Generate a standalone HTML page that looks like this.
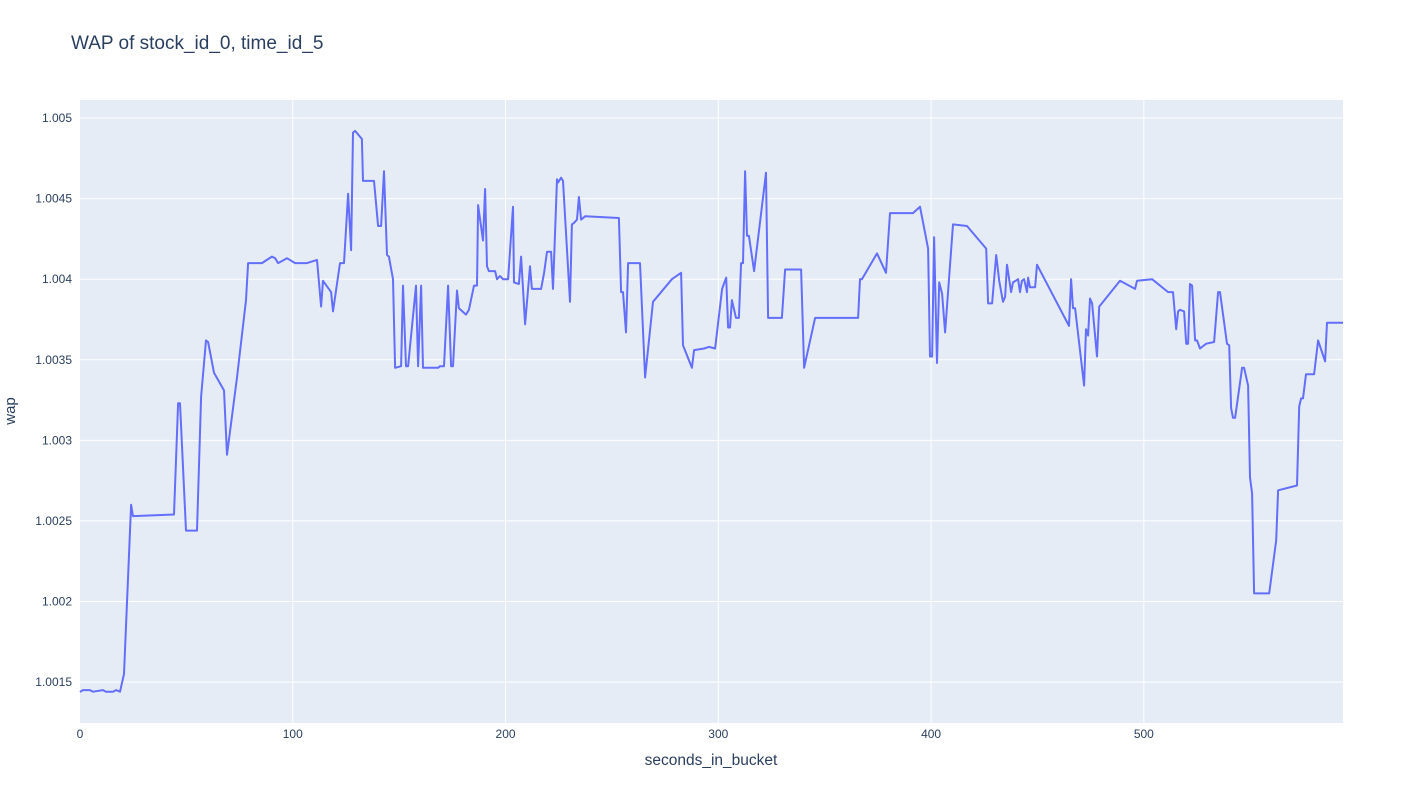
<!DOCTYPE html>
<html><head><meta charset="utf-8"><style>
body{margin:0;background:#fff;}
svg text{font-family:"Liberation Sans",sans-serif;fill:#2a3f5f;}
</style></head><body>
<svg id="chart" width="1424" height="804">
<text x="71" y="49" font-size="19">WAP of stock_id_0, time_id_5</text>
<rect x="80" y="100" width="1263" height="623" fill="#e5ecf6"/>
<g id="grid"></g>
<g id="ticks"></g>
<path id="line" fill="none" stroke="#636efa" stroke-width="2" stroke-linejoin="round"/>
<text x="711" y="765" font-size="15.5" text-anchor="middle">seconds_in_bucket</text>
<text x="15" y="411" font-size="15" text-anchor="middle" transform="rotate(-90 15 411)">wap</text>
</svg>
<script>
const xTicks=[0,100,200,300,400,500];
const yTicks=[1.0015,1.002,1.0025,1.003,1.0035,1.004,1.0045,1.005];
const yTickLabels=["1.0015","1.002","1.0025","1.003","1.0035","1.004","1.0045","1.005"];
const seconds=[0,1.3,4.7,6.1,10.8,12.2,15.5,16.9,18.8,20.7,24.0,24.9,44.2,46.1,47.0,49.8,55.0,56.9,59.2,60.2,63.0,67.7,69.1,73.8,78.0,79.0,85.5,90.2,91.7,93.1,97.3,101.1,106.7,111.4,113.3,114.2,118.0,118.9,122.2,124.1,126.0,127.4,128.3,129.3,132.5,133.0,138.2,140.1,141.5,142.9,144.3,145.2,147.1,148.1,150.9,151.8,153.2,154.2,157.9,158.9,160.3,161.2,168.3,169.2,171.1,173.0,174.4,175.3,177.2,178.1,181.4,182.8,185.2,186.6,187.1,189.4,190.4,191.3,192.2,195.1,196.0,197.4,198.8,201.2,203.5,204.0,206.3,207.3,209.2,211.5,212.4,216.7,218.1,219.5,221.4,222.3,224.2,224.7,226.1,227.0,230.3,231.2,232.2,233.6,234.5,235.5,237.4,253.3,254.3,255.2,256.6,257.6,263.2,265.6,269.3,278.2,282.5,283.4,287.6,288.6,293.3,295.6,298.5,301.8,303.7,304.6,305.5,306.4,308.3,309.7,310.7,311.6,312.6,313.5,314.4,316.8,322.4,323.4,329.9,331.4,338.9,340.3,345.5,349.2,365.7,366.6,367.5,374.6,378.8,380.7,391.5,394.8,398.6,399.5,400.5,401.4,402.8,403.8,405.2,406.6,410.3,416.9,425.9,426.8,428.7,430.6,432.0,433.8,434.8,435.7,437.6,438.5,440.9,441.8,442.7,443.7,445.1,445.6,446.5,448.9,449.8,464.8,465.8,466.7,467.7,471.9,472.8,473.8,474.7,475.7,478.0,479.0,488.8,495.9,496.8,503.9,511.4,513.7,515.2,516.1,517.0,518.9,519.9,520.8,521.7,522.7,524.1,525.0,526.4,529.3,533.0,534.9,535.8,539.1,540.1,541.0,541.9,542.9,546.2,547.1,549.0,549.9,550.9,551.8,558.9,562.2,563.1,572.0,573.0,573.9,574.8,576.2,580.0,581.9,585.2,586.1,593.6];
const wap=[1.001438,1.00145,1.00145,1.00144,1.00145,1.00144,1.00144,1.00145,1.00144,1.00155,1.00260,1.00253,1.00254,1.00323,1.00323,1.00244,1.00244,1.00327,1.00362,1.00361,1.00342,1.00331,1.00291,1.00339,1.00387,1.00410,1.00410,1.00414,1.00413,1.00410,1.00413,1.00410,1.00410,1.00412,1.00383,1.00399,1.00392,1.00380,1.00410,1.00410,1.00453,1.00418,1.00491,1.00492,1.00487,1.00461,1.00461,1.00433,1.00433,1.00467,1.00415,1.00414,1.00400,1.00345,1.00346,1.00396,1.00346,1.00346,1.00396,1.00346,1.00396,1.00345,1.00345,1.00346,1.00346,1.00396,1.00346,1.00346,1.00393,1.00382,1.00378,1.00381,1.00396,1.00396,1.00446,1.00424,1.00456,1.00408,1.00405,1.00405,1.00400,1.00402,1.00400,1.00400,1.00445,1.00398,1.00397,1.00414,1.00372,1.00408,1.00394,1.00394,1.00404,1.00417,1.00417,1.00394,1.00462,1.00460,1.00463,1.00461,1.00386,1.00434,1.00435,1.00437,1.00451,1.00437,1.00439,1.00438,1.00392,1.00392,1.00367,1.00410,1.00410,1.00339,1.00386,1.00400,1.00404,1.00359,1.00345,1.00356,1.00357,1.00358,1.00357,1.00394,1.00401,1.00370,1.00370,1.00387,1.00376,1.00376,1.00410,1.00410,1.00467,1.00427,1.00427,1.00405,1.00466,1.00376,1.00376,1.00406,1.00406,1.00345,1.00376,1.00376,1.00376,1.00400,1.00400,1.00416,1.00404,1.00441,1.00441,1.00445,1.00419,1.00352,1.00352,1.00426,1.00348,1.00398,1.00391,1.00367,1.00434,1.00433,1.00419,1.00385,1.00385,1.00415,1.00399,1.00386,1.00389,1.00409,1.00392,1.00398,1.00400,1.00392,1.00399,1.00400,1.00392,1.00401,1.00395,1.00395,1.00409,1.00371,1.00400,1.00382,1.00382,1.00334,1.00369,1.00365,1.00388,1.00385,1.00352,1.00383,1.00399,1.00394,1.00399,1.00400,1.00392,1.00392,1.00369,1.00380,1.00381,1.00380,1.00360,1.00360,1.00397,1.00396,1.00362,1.00362,1.00357,1.00360,1.00361,1.00392,1.00392,1.00360,1.00359,1.00320,1.00314,1.00314,1.00345,1.00345,1.00334,1.00277,1.00267,1.00205,1.00205,1.00238,1.00269,1.00272,1.00321,1.00326,1.00326,1.00341,1.00341,1.00362,1.00349,1.00373,1.00373];

const X0=80,X1=1343,Y0=100,Y1=723;
const xMin=0,xMax=593.6,yMin=1.001246,yMax=1.005112;
function sx(v){return X0+(v-xMin)/(xMax-xMin)*(X1-X0);}
function sy(v){return Y1-(v-yMin)/(yMax-yMin)*(Y1-Y0);}
const NS="http://www.w3.org/2000/svg";
const grid=document.getElementById('grid'),ticks=document.getElementById('ticks');
xTicks.forEach(t=>{
  const x=sx(t);
  if(t!==0){
    const l=document.createElementNS(NS,'line');
    l.setAttribute('x1',x);l.setAttribute('x2',x);l.setAttribute('y1',Y0);l.setAttribute('y2',Y1);
    l.setAttribute('stroke','#fff');l.setAttribute('stroke-width','1');
    
    
    grid.appendChild(l);
  }
  const tx=document.createElementNS(NS,'text');
  tx.setAttribute('x',x);tx.setAttribute('y',738);tx.setAttribute('font-size','12');tx.setAttribute('text-anchor','middle');
  tx.textContent=String(t);
  
  
  ticks.appendChild(tx);
});
yTicks.forEach((t,i)=>{
  const y=sy(t);
  const l=document.createElementNS(NS,'line');
  l.setAttribute('x1',X0);l.setAttribute('x2',X1);l.setAttribute('y1',y);l.setAttribute('y2',y);
  l.setAttribute('stroke','#fff');l.setAttribute('stroke-width','1');
  
  
  grid.appendChild(l);
  const tx=document.createElementNS(NS,'text');
  tx.setAttribute('x',72);tx.setAttribute('y',y+4);tx.setAttribute('font-size','12');tx.setAttribute('text-anchor','end');
  tx.textContent=yTickLabels[i];
  
  
  ticks.appendChild(tx);
});
let d='';
seconds.forEach((s,i)=>{d+=(i?'L':'M')+sx(s).toFixed(1)+','+sy(wap[i]).toFixed(1);});
document.getElementById('line').setAttribute('d',d);
</script>
</body></html>
